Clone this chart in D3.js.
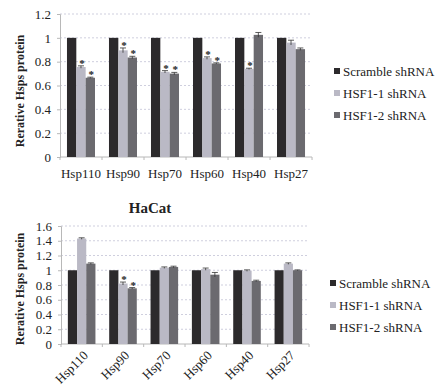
<!DOCTYPE html>
<html>
<head>
<meta charset="utf-8">
<script src="https://cdn.jsdelivr.net/npm/d3@7"></script>
<style>
  body { margin: 0; background: #fff; }
  svg { display: block; font-family: "Liberation Serif", "Times New Roman", serif; }
</style>
</head>
<body>
<svg id="chart" width="436" height="392"></svg>
<script>
const categories = ["Hsp110", "Hsp90", "Hsp70", "Hsp60", "Hsp40", "Hsp27"];
const seriesNames = ["Scramble shRNA", "HSF1-1 shRNA", "HSF1-2 shRNA"];
const colors = ["#2c2a2c", "#bab9c5", "#6b6a6f"];

// top panel
const topScramble = [1, 1, 1, 1, 1, 1];
const topHsf1 = [0.755, 0.895, 0.715, 0.83, 0.74, 0.96];
const topHsf2 = [0.665, 0.835, 0.70, 0.785, 1.025, 0.905];
const topErr1 = [0.01, 0.02, 0.01, 0.01, 0.005, 0.02];
const topErr2 = [0.005, 0.01, 0.01, 0.005, 0.02, 0.01];
const topStars1 = [true, true, true, true, true, false];
const topStars2 = [true, true, true, true, false, false];
const topTicks = [0, 0.2, 0.4, 0.6, 0.8, 1, 1.2];

// bottom panel (HaCat)
const botScramble = [1, 1, 1, 1, 1, 1];
const botHsf1 = [1.43, 0.82, 1.035, 1.015, 0.995, 1.09];
const botHsf2 = [1.09, 0.755, 1.045, 0.94, 0.855, 1.0];
const botErr1 = [0.01, 0.02, 0.01, 0.015, 0.01, 0.01];
const botErr2 = [0.01, 0.01, 0.01, 0.03, 0.01, 0.005];
const botStars1 = [false, true, false, false, false, false];
const botStars2 = [false, true, false, false, false, false];
const botTicks = [0, 0.2, 0.4, 0.6, 0.8, 1, 1.2, 1.4, 1.6];

const svg = d3.select("#chart");

function drawPanel(opt) {
    const x = d3.scaleBand().domain(categories).range([opt.x0, opt.x1]).paddingInner(0.333).paddingOuter(0.166);
    const xs = d3.scaleBand().domain(d3.range(3)).range([0, x.bandwidth()]);
    const y = d3.scaleLinear().domain([0, opt.ymax]).range([opt.y0, opt.y1]);
    const g = svg.append("g");

    // gridlines
    g.append("g").selectAll("line")
        .data(opt.ticks.filter(t => t > 0))
        .enter().append("line")
        .attr("x1", opt.x0).attr("x2", opt.x1)
        .attr("y1", d => y(d)).attr("y2", d => y(d))
        .attr("stroke", "#c3c3d6")
        .attr("stroke-width", 0.8)
        .attr("stroke-dasharray", "2,2");

    // y axis
    const yAxis = g.append("g")
        .attr("transform", `translate(${opt.x0},0)`)
        .call(d3.axisLeft(y).tickValues(opt.ticks).tickFormat(d3.format("~g")).tickSize(3).tickPadding(6));
    yAxis.select(".domain").attr("stroke", "#b8b8b8");
    yAxis.selectAll(".tick line").attr("stroke", "#b8b8b8");
    yAxis.selectAll("text").attr("font-size", 13).attr("fill", "#222")
        .attr("font-family", "Liberation Serif");

    // x axis line + category ticks
    g.append("line")
        .attr("x1", opt.x0).attr("x2", opt.x1)
        .attr("y1", opt.y0).attr("y2", opt.y0)
        .attr("stroke", "#b8b8b8");
    g.append("g").selectAll("line")
        .data(d3.range(categories.length + 1))
        .enter().append("line")
        .attr("x1", i => opt.x0 + i * x.step()).attr("x2", i => opt.x0 + i * x.step())
        .attr("y1", opt.y0).attr("y2", opt.y0 + 3)
        .attr("stroke", "#b8b8b8");

    const series = [opt.s0, opt.s1, opt.s2];
    const errs = [null, opt.e1, opt.e2];
    const stars = [null, opt.st1, opt.st2];

    series.forEach((vals, si) => {
        g.append("g").selectAll("rect")
            .data(categories)
            .enter().append("rect")
            .attr("x", d => x(d) + xs(si))
            .attr("y", (d, i) => y(vals[i]))
            .attr("width", xs.bandwidth())
            .attr("height", (d, i) => y(0) - y(vals[i]))
            .attr("fill", colors[si]);

        if (errs[si]) {
            const eg = g.append("g").attr("stroke", "#333").attr("stroke-width", 0.8);
            categories.forEach((c, i) => {
                const cx = x(c) + xs(si) + xs.bandwidth() / 2;
                const top = y(vals[i] + errs[si][i]);
                eg.append("line").attr("x1", cx).attr("x2", cx)
                    .attr("y1", y(vals[i] - errs[si][i])).attr("y2", top);
                eg.append("line").attr("x1", cx - 3).attr("x2", cx + 3)
                    .attr("y1", top).attr("y2", top);
            });
            g.append("g").selectAll("text")
                .data(categories.filter((c, i) => stars[si][i]))
                .enter().append("text")
                .attr("x", c => x(c) + xs(si) + xs.bandwidth() / 2 + 1)
                .attr("y", c => y(vals[categories.indexOf(c)] + errs[si][categories.indexOf(c)]) + 1)
                .attr("text-anchor", "middle")
                .attr("font-size", 11)
                .attr("font-weight", "bold")
                .attr("fill", "#222")
                .text("*");
        }
    });

    // x labels
    const xl = g.append("g").selectAll("text")
        .data(categories)
        .enter().append("text")
        .attr("font-size", 13)
        .attr("fill", "#222")
        .text(d => d);
    if (opt.rotate) {
        xl.attr("text-anchor", "end")
            .attr("transform", d => `translate(${x(d) + x.bandwidth() / 2 + 4},${opt.y0 + 9}) rotate(-45)`)
            .attr("dy", "0.35em");
    } else {
        xl.attr("text-anchor", "middle")
            .attr("x", d => x(d) + x.bandwidth() / 2)
            .attr("y", opt.y0 + 21);
    }

    // y title
    g.append("text")
        .attr("transform", `translate(24,${opt.titleY}) rotate(-90)`)
        .attr("text-anchor", "middle")
        .attr("font-size", 12)
        .attr("font-weight", "bold")
        .attr("fill", "#222")
        .text("Rerative Hsps protein");

    // legend
    const lg = g.append("g").selectAll("g")
        .data(seriesNames)
        .enter().append("g")
        .attr("transform", (d, i) => `translate(${opt.legX},${opt.legY + i * 22})`);
    lg.append("rect").attr("x", 0).attr("y", -3).attr("width", 6).attr("height", 6)
        .attr("fill", (d, i) => colors[i]);
    lg.append("text").attr("x", 9).attr("y", 0).attr("dy", "0.35em")
        .attr("font-size", 13).attr("fill", "#222").text(d => d);
}

drawPanel({
    x0: 60, x1: 312, y0: 157, y1: 14, ymax: 1.2, ticks: topTicks,
    s0: topScramble, s1: topHsf1, s2: topHsf2, e1: topErr1, e2: topErr2,
    st1: topStars1, st2: topStars2, rotate: false, titleY: 91,
    legX: 334, legY: 71
});

drawPanel({
    x0: 61, x1: 309, y0: 344, y1: 226, ymax: 1.6, ticks: botTicks,
    s0: botScramble, s1: botHsf1, s2: botHsf2, e1: botErr1, e2: botErr2,
    st1: botStars1, st2: botStars2, rotate: true, titleY: 289,
    legX: 330, legY: 283
});

svg.append("text")
    .attr("x", 150).attr("y", 208).attr("dy", "0.35em")
    .attr("text-anchor", "middle")
    .attr("font-size", 15)
    .attr("font-weight", "bold")
    .attr("fill", "#222")
    .text("HaCat");
</script>
</body>
</html>
